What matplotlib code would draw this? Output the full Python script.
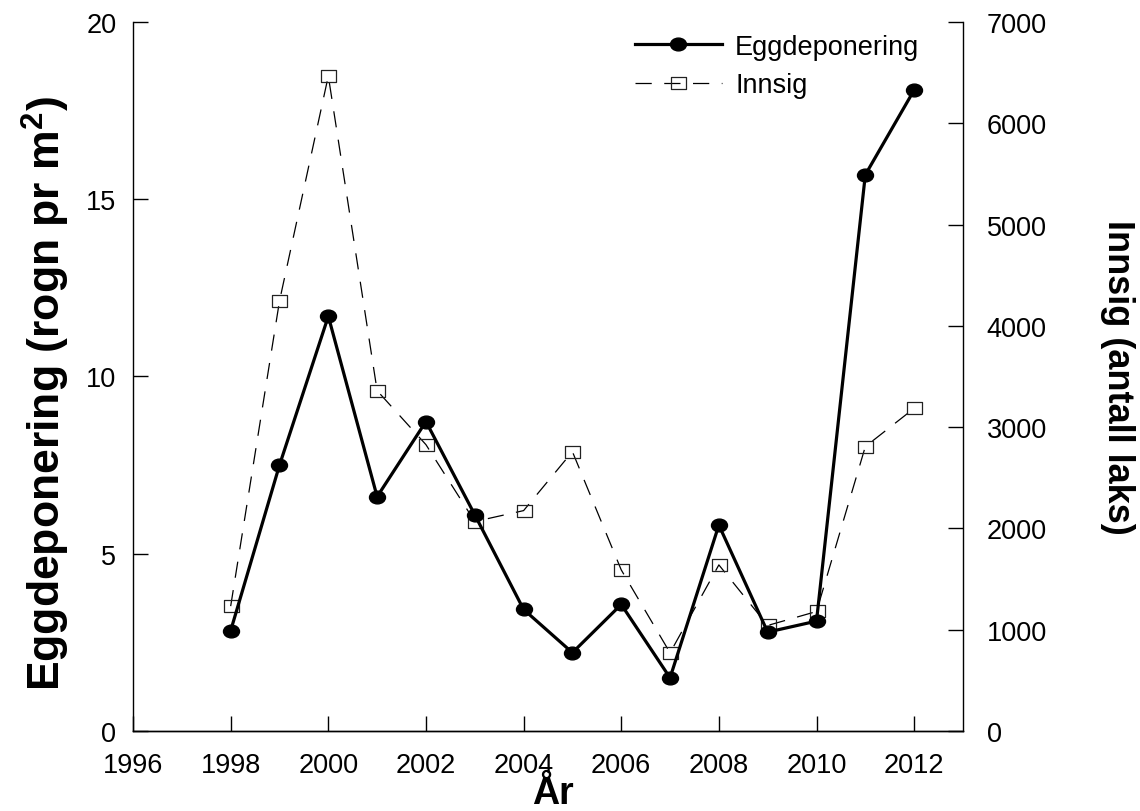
import matplotlib.pyplot as plt
from matplotlib.path import Path
from matplotlib.transforms import Affine2D

plt.rcParams['font.family'] = ['Liberation Sans', 'DejaVu Sans']
plt.rcParams['mathtext.fontset'] = 'custom'
plt.rcParams['mathtext.rm'] = 'Liberation Sans'
plt.rcParams['mathtext.bf'] = 'Liberation Sans:bold'

# Data
years = list(range(1998, 2013))
eggs = [2.83, 7.5, 11.7, 6.61, 8.73, 6.10, 3.43, 2.21, 3.57, 1.50, 5.81, 2.79, 3.10, 15.69, 18.08]
innsig = [1233, 4245, 6467, 3360, 2827, 2068, 2176, 2758, 1591, 772, 1640, 1042, 1180, 2808, 3186]

x_ticks = list(range(1996, 2013, 2))
egg_ticks = [0, 5, 10, 15, 20]
innsig_ticks = list(range(0, 7001, 1000))

# slightly wide markers
dot = Path.unit_circle().transformed(Affine2D().scale(1.25, 1.0))
box = Path([(-0.6, -0.5), (0.6, -0.5), (0.6, 0.5), (-0.6, 0.5), (-0.6, -0.5)],
           [Path.MOVETO, Path.LINETO, Path.LINETO, Path.LINETO, Path.CLOSEPOLY])

fig = plt.figure(figsize=(11.4, 8.12), dpi=100)
ax = fig.add_axes([0.1167, 0.0985, 0.7280, 0.8732])
ax2 = ax.twinx()

line_i, = ax2.plot(years, innsig, color='black', lw=0.9, dashes=(13, 10),
                   marker=box, markersize=10.8, markerfacecolor='none',
                   markeredgecolor='#222222', markeredgewidth=0.9)
line_e, = ax.plot(years, eggs, color='black', lw=2.3, marker=dot,
                  markersize=11.5, markerfacecolor='black', markeredgecolor='black')

ax.set_zorder(ax2.get_zorder() + 1)
ax.patch.set_visible(False)

ax.set_xlim(1996, 2013)
ax.set_ylim(0, 20)
ax2.set_ylim(0, 7000)
ax.set_xticks(x_ticks)
ax.set_yticks(egg_ticks)
ax2.set_yticks(innsig_ticks)

for a in (ax, ax2):
    a.spines['top'].set_visible(False)
    for s in a.spines.values():
        s.set_linewidth(1.0)
ax.spines['right'].set_visible(False)
ax2.spines['left'].set_visible(False)

ax.tick_params(axis='both', direction='in', length=11, width=1, labelsize=19.5)
ax.tick_params(axis='x', pad=15)
ax.tick_params(axis='y', pad=12)
ax2.tick_params(axis='y', direction='in', length=11, width=1, labelsize=19.5, pad=17)

fig.text(0.040, 0.515, r'Eggdeponering (rogn pr m$^\mathbf{2}$)', rotation=90,
         ha='center', va='center', fontsize=32, fontweight='bold')
fig.text(0.980, 0.535, 'Innsig (antall laks)', rotation=270,
         ha='center', va='center', fontsize=26, fontweight='bold')
fig.text(0.485, 0.010, 'År', ha='center', va='baseline', fontsize=27, fontweight='bold')

ax.legend([line_e, line_i], ['Eggdeponering', 'Innsig'], loc='upper left',
          bbox_to_anchor=(635 / 1140, 0.957), bbox_transform=fig.transFigure,
          frameon=False, fontsize=19.5, handlelength=3.2, handletextpad=0.5,
          labelspacing=0.45, borderpad=0, borderaxespad=0)

plt.savefig('out.png', dpi=100)
